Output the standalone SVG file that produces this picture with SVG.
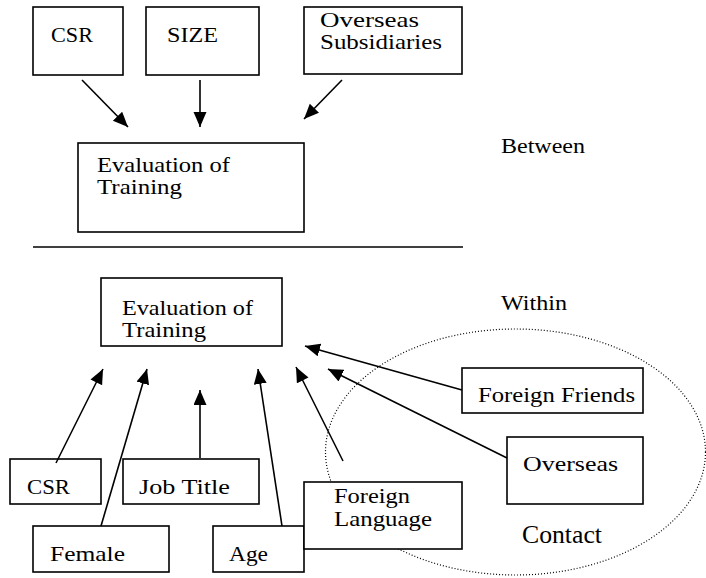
<svg xmlns="http://www.w3.org/2000/svg" width="706" height="578" viewBox="0 0 706 578">
  <defs>
    <style>
      .box { fill: #fff; stroke: #000; stroke-width: 1.6; }
      text { font-family: "Liberation Serif", "Times New Roman", serif; font-size: 21px; fill: #000; }
      text.grouptext { font-size: 25px; }
      .edge { stroke: #000; stroke-width: 1.6; fill: none; marker-end: url(#head); }
      .rule { stroke: #000; stroke-width: 1.6; }
      .group { fill: none; stroke: #000; stroke-width: 1.2; stroke-dasharray: 1 2; }
    </style>
    <marker id="head" markerUnits="userSpaceOnUse" markerWidth="16" markerHeight="14" refX="15" refY="6.5" orient="auto">
      <path d="M0,0 L15,6.5 L0,13 Z" fill="#000"/>
    </marker>
  </defs>

  <!-- upper level: between organisations -->
  <g id="top-csr">
    <rect class="box" x="33" y="7" width="90" height="68"/>
    <text x="51" y="42" textLength="42" lengthAdjust="spacingAndGlyphs">CSR</text>
  </g>
  <g id="top-size">
    <rect class="box" x="146" y="7" width="113" height="68"/>
    <text x="167" y="42" textLength="51" lengthAdjust="spacingAndGlyphs">SIZE</text>
  </g>
  <g id="top-overseas">
    <rect class="box" x="304" y="7" width="158" height="67"/>
    <text x="320" y="27" textLength="99" lengthAdjust="spacingAndGlyphs">Overseas</text>
    <text x="320" y="49" textLength="122" lengthAdjust="spacingAndGlyphs">Subsidiaries</text>
  </g>
  <g id="top-eval">
    <rect class="box" x="78" y="143" width="226" height="89"/>
    <text x="97" y="172" textLength="133" lengthAdjust="spacingAndGlyphs">Evaluation of</text>
    <text x="97" y="194" textLength="85" lengthAdjust="spacingAndGlyphs">Training</text>
  </g>
  <text x="501" y="153" textLength="84" lengthAdjust="spacingAndGlyphs">Between</text>

  <line class="rule" x1="33" y1="247" x2="463" y2="247"/>

  <!-- lower level: within organisations -->
  <text x="501" y="310" textLength="66" lengthAdjust="spacingAndGlyphs">Within</text>
  <ellipse id="contact" class="group" cx="515.5" cy="452" rx="190" ry="123"/>

  <g id="low-eval">
    <rect class="box" x="101" y="278" width="181" height="68"/>
    <text x="122" y="315" textLength="131" lengthAdjust="spacingAndGlyphs">Evaluation of</text>
    <text x="122" y="337" textLength="84" lengthAdjust="spacingAndGlyphs">Training</text>
  </g>
  <g id="low-csr">
    <rect class="box" x="10" y="459" width="91" height="45"/>
    <text x="27" y="494" textLength="43" lengthAdjust="spacingAndGlyphs">CSR</text>
  </g>
  <g id="low-job">
    <rect class="box" x="123" y="459" width="136" height="45"/>
    <text x="139" y="494" textLength="91" lengthAdjust="spacingAndGlyphs">Job Title</text>
  </g>
  <g id="low-female">
    <rect class="box" x="33" y="526" width="136" height="46"/>
    <text x="50" y="561" textLength="75" lengthAdjust="spacingAndGlyphs">Female</text>
  </g>
  <g id="low-age">
    <rect class="box" x="213" y="526" width="91" height="46"/>
    <text x="229" y="561" textLength="39" lengthAdjust="spacingAndGlyphs">Age</text>
  </g>
  <g id="low-language">
    <rect class="box" x="304" y="482" width="158" height="67"/>
    <text x="334" y="503" textLength="76" lengthAdjust="spacingAndGlyphs">Foreign</text>
    <text x="334" y="526" textLength="98" lengthAdjust="spacingAndGlyphs">Language</text>
  </g>
  <g id="low-friends">
    <rect class="box" x="462" y="368" width="181" height="45"/>
    <text x="478" y="402" textLength="157" lengthAdjust="spacingAndGlyphs">Foreign Friends</text>
  </g>
  <g id="low-overseas">
    <rect class="box" x="507" y="437" width="136" height="67"/>
    <text x="523" y="471" textLength="95" lengthAdjust="spacingAndGlyphs">Overseas</text>
  </g>
  <text class="grouptext" x="522" y="543" textLength="80" lengthAdjust="spacingAndGlyphs">Contact</text>

  <g id="connectors">
    <line class="edge" x1="82" y1="80" x2="128" y2="127"/>
    <line class="edge" x1="200" y1="80" x2="200" y2="127"/>
    <line class="edge" x1="342" y1="80" x2="304" y2="119"/>

    <line class="edge" x1="56" y1="463" x2="103" y2="369"/>
    <line class="edge" x1="101" y1="526" x2="147" y2="369"/>
    <line class="edge" x1="200" y1="458" x2="200" y2="390"/>
    <line class="edge" x1="282" y1="526" x2="258" y2="369"/>
    <line class="edge" x1="343" y1="461" x2="296" y2="367"/>
    <line class="edge" x1="462" y1="390" x2="305" y2="346"/>
    <line class="edge" x1="507" y1="458" x2="328" y2="369"/>
  </g>
</svg>
